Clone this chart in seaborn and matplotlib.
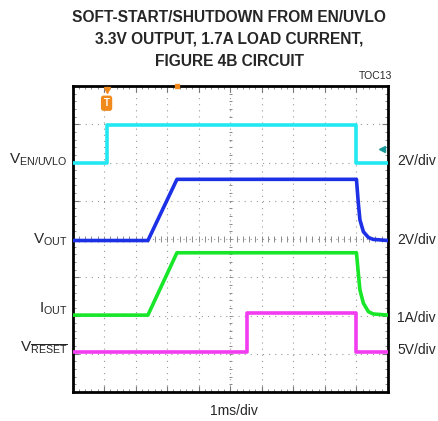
import matplotlib
matplotlib.use("Agg")
import matplotlib.pyplot as plt
import seaborn as sns
import numpy as np
import pandas as pd

en_t = [0, 1.08, 1.08, 9.0, 9.0, 10]
en_v = [6.0, 6.0, 6.98, 6.98, 6.0, 6.0]
vout_t = [0, 2.39, 3.31, 9.0, 9.06, 9.11, 9.22, 9.38, 9.53, 10]
vout_v = [3.96, 3.96, 5.56, 5.56, 4.93, 4.50, 4.19, 4.04, 3.99, 3.96]
iout_t = [0, 2.39, 3.31, 9.0, 9.06, 9.11, 9.22, 9.38, 9.53, 10]
iout_v = [2.01, 2.01, 3.64, 3.64, 3.10, 2.67, 2.32, 2.10, 2.04, 2.01]
rst_t = [0, 5.54, 5.54, 9.0, 9.0, 10]
rst_v = [1.05, 1.05, 2.06, 2.06, 1.05, 1.05]

traces = ["EN", "VOUT", "IOUT", "RESET"]
colors = ["#22e8f2", "#1c30e6", "#18e628", "#f23cf0"]
left_labels = [r"$\mathregular{V_{EN/UVLO}}$", r"$\mathregular{V_{OUT}}$",
               r"$\mathregular{I_{OUT}}$", r"$\mathregular{V_{\overline{RESET}}}$"]
left_y = [160, 240, 309, 348]
right_labels = ["2V/div", "2V/div", "1A/div", "5V/div"]
right_y = [161, 240, 318, 350]
title_lines = ["SOFT-START/SHUTDOWN FROM EN/UVLO",
               "3.3V OUTPUT, 1.7A LOAD CURRENT,",
               "FIGURE 4B CIRCUIT"]

df = pd.concat([
    pd.DataFrame({"t": en_t, "v": en_v, "trace": "EN"}),
    pd.DataFrame({"t": vout_t, "v": vout_v, "trace": "VOUT"}),
    pd.DataFrame({"t": iout_t, "v": iout_v, "trace": "IOUT"}),
    pd.DataFrame({"t": rst_t, "v": rst_v, "trace": "RESET"}),
])

sns.set_style("white")
plt.rcParams["font.family"] = ["Liberation Sans", "DejaVu Sans"]
plt.rcParams["mathtext.fontset"] = "custom"
plt.rcParams["mathtext.rm"] = "Liberation Sans"

W, H = 438, 421
fig = plt.figure(figsize=(W / 100, H / 100), dpi=100)
ax = fig.add_axes([72.5 / W, (H - 392) / H, 315.5 / W, 306 / H])

# scope graticule
for k in range(1, 10):
    ax.axvline(k, color="#9a9a9a", lw=0.8, ls=(0, (1, 4.5)), zorder=0)
for k in range(1, 8):
    ax.axhline(k, color="#9a9a9a", lw=0.8, ls=(0, (1, 4.5)), zorder=0)
sub = np.arange(0, 10.01, 0.2)
ax.vlines(sub, 3.93, 4.07, color="#8a8a8a", lw=0.7, zorder=0)
sub_y = np.arange(0, 8.01, 0.2)
ax.hlines(sub_y, 4.95, 5.05, color="#8a8a8a", lw=0.7, zorder=0)

sns.lineplot(data=df, x="t", y="v", hue="trace", hue_order=traces,
             palette=dict(zip(traces, colors)), sort=False, estimator=None,
             legend=False, linewidth=2.6, ax=ax, zorder=3)

ax.set_xlim(0, 10)
ax.set_ylim(0, 8)
ax.set_xticks(range(0, 11))
ax.set_yticks(range(0, 9))
ax.set_xticks(np.arange(0, 10.01, 0.2), minor=True)
ax.set_yticks(np.arange(0, 8.01, 0.2), minor=True)
ax.tick_params(which="both", direction="in", top=True, right=True, bottom=True, left=True,
               labelbottom=False, labelleft=False, color="#777777")
ax.tick_params(which="major", length=4, width=0.8)
ax.tick_params(which="minor", length=2.5, width=0.6)
ax.set_xlabel("")
ax.set_ylabel("")
for s in ax.spines.values():
    s.set_color("black")
    s.set_linewidth(2)

# trigger and ground markers
ax.plot([1.08], [7.9], marker="v", color="#f08a1c", ms=5, clip_on=False, zorder=4)
ax.text(1.08, 7.55, "T", color="white", fontsize=7, fontweight="bold", ha="center", va="center",
        bbox=dict(boxstyle="round,pad=0.2", fc="#f08a1c", ec="#f08a1c"), zorder=4)
ax.plot([3.3], [8.0], marker="s", color="#f08a1c", ms=3, clip_on=False, zorder=4)
ax.plot([9.8], [6.35], marker="<", color="#1a9a9a", ms=4, zorder=4)

def ftext(x, y, s, **kw):
    fig.text(x / W, 1 - y / H, s, **kw)

for i, line in enumerate(title_lines):
    ftext(229, 18 + i * 21.5, line, ha="center", va="center", fontsize=11.2, fontweight="bold")
ftext(392, 76, "TOC13", ha="right", va="center", fontsize=7.5)
for lab, y in zip(left_labels, left_y):
    ftext(68, y, lab, ha="right", va="center", fontsize=11)
for lab, y in zip(right_labels, right_y):
    ftext(397, y, lab, ha="left", va="center", fontsize=10)
ftext(234, 411, "1ms/div", ha="center", va="center", fontsize=10)

fig.savefig("out.png", dpi=100)
